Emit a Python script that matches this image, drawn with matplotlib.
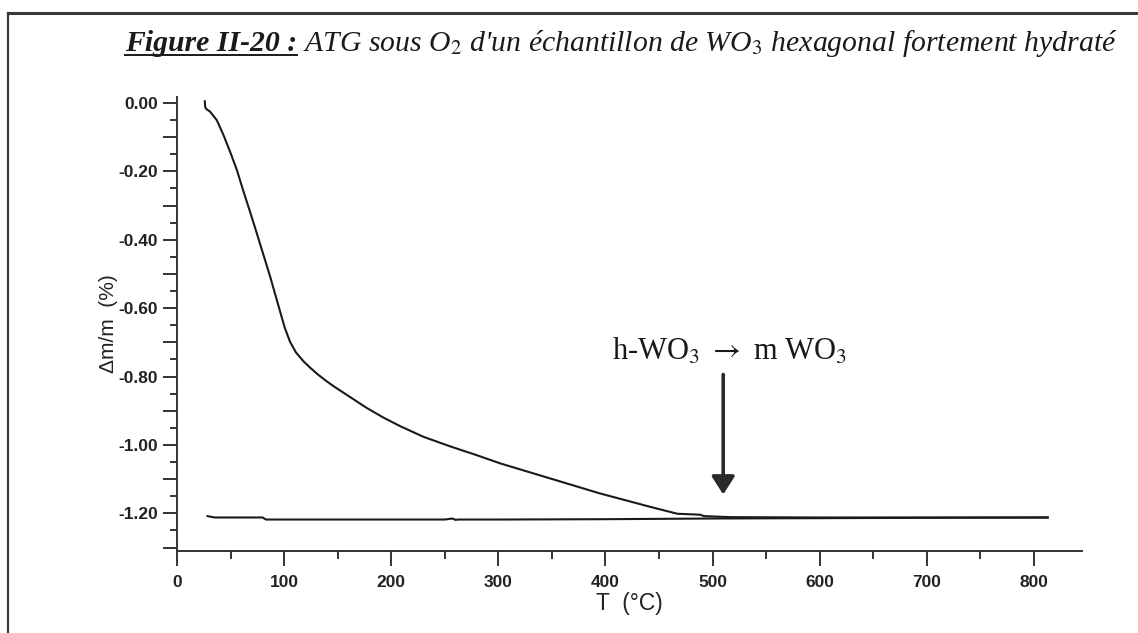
import matplotlib
matplotlib.use("Agg")
import matplotlib.pyplot as plt
from matplotlib.lines import Line2D
from matplotlib.ticker import MultipleLocator, FuncFormatter

# heating run (sous O2)
t_heat = [26.0, 26.3, 27.5, 30.8, 37.1, 43.3, 49.5, 55.8, 62.0, 68.2, 74.5, 80.7,
          87.0, 93.2, 95.0, 100.5, 105.5, 111.0, 118.0, 125.0, 132.0, 139.0,
          146.1, 161.7, 177.3, 192.8, 208.4, 230.0, 255.0, 280.0, 302.0, 348.6,
          395.3, 442.0, 467.0, 488.8, 492.0, 516.8, 600.0, 700.0, 813.0]
dm_heat = [0.005, -0.012, -0.018, -0.025, -0.050, -0.093, -0.142, -0.195, -0.258,
           -0.318, -0.381, -0.444, -0.508, -0.576, -0.596, -0.656, -0.698, -0.729,
           -0.755, -0.776, -0.795, -0.812, -0.828, -0.860, -0.892, -0.920, -0.945,
           -0.976, -1.004, -1.030, -1.054, -1.098, -1.142, -1.181, -1.201, -1.204,
           -1.208, -1.211, -1.212, -1.212, -1.212]

# cooling run
t_cool = [28.5, 35.0, 80.0, 83.0, 150.0, 250.0, 257.0, 260.0, 263.0, 300.0,
          400.0, 500.0, 600.0, 700.0, 813.0]
dm_cool = [-1.208, -1.212, -1.212, -1.218, -1.218, -1.218, -1.215, -1.219, -1.218,
           -1.218, -1.217, -1.215, -1.214, -1.213, -1.212]

arrow_t = 510
arrow_top = -0.794
arrow_tip = -1.145
note = "h-WO$_3$ $\\rightarrow$ m WO$_3$"
note_y = -0.752

plt.rcParams["mathtext.fontset"] = "stix"

fig = plt.figure(figsize=(11.38, 6.33), dpi=100)
W, H = 1138, 633
ax = fig.add_axes([177 / W, 1 - 551 / H, (1082 - 177) / W, (551 - 97) / H])

ax.plot(t_heat, dm_heat, color="#1a1a1a", lw=1.5)
ax.plot(t_cool, dm_cool, color="#1a1a1a", lw=1.5)

ax.set_xlim(0, 845)
ax.set_ylim(-1.31, 0.0175)

for side in ("top", "right"):
    ax.spines[side].set_visible(False)
for side in ("left", "bottom"):
    ax.spines[side].set_linewidth(1.4)
    ax.spines[side].set_color("#333333")

ax.xaxis.set_major_locator(MultipleLocator(100))
ax.xaxis.set_minor_locator(MultipleLocator(50))
ax.yaxis.set_major_locator(MultipleLocator(0.1))
ax.yaxis.set_minor_locator(MultipleLocator(0.05))


def ylab(v, pos):
    k = round(v * 10)
    if k % 2:
        return ""
    return "%.2f" % (k / 10)


ax.yaxis.set_major_formatter(FuncFormatter(ylab))
ax.tick_params(which="major", axis="x", length=11, width=1.4, color="#333333")
ax.tick_params(which="minor", axis="x", length=5.5, width=1.4, color="#333333")
ax.tick_params(which="major", axis="y", length=10, width=1.4, color="#333333")
ax.tick_params(which="minor", axis="y", length=5, width=1.4, color="#333333")
for lab in ax.get_xticklabels() + ax.get_yticklabels():
    lab.set_fontfamily("Liberation Sans")
    lab.set_fontweight("bold")
    lab.set_fontsize(12.5)
    lab.set_color("#222222")
ax.tick_params(axis="x", pad=6)

ax.set_xlabel("T  (\u00b0C)", fontfamily="Liberation Sans", fontsize=16.5,
              color="#222222", labelpad=2)
ax.set_ylabel("\u0394m/m  (%)", fontfamily="Liberation Sans", fontsize=15,
              color="#222222", labelpad=0)

ax.annotate("", xy=(arrow_t, arrow_tip), xytext=(arrow_t, arrow_top),
            arrowprops=dict(arrowstyle="-|>,head_length=0.55,head_width=0.35",
                            mutation_scale=20, lw=2.6, color="#2a2a2a",
                            shrinkA=0, shrinkB=0))
ax.text(arrow_t + 6, note_y, note, ha="center", va="baseline",
        fontfamily="Liberation Serif", fontsize=22, color="#1a1a1a")

# frame of the page
fig.add_artist(Line2D([8 / W, 1.0], [1 - 13 / H, 1 - 13 / H],
                      transform=fig.transFigure, color="#3a3a3a", lw=2.2))
fig.add_artist(Line2D([8 / W, 8 / W], [1 - 13 / H, 0.0],
                      transform=fig.transFigure, color="#3a3a3a", lw=1.6))

# caption: bold underlined part then italic part
renderer = fig.canvas.get_renderer()
base_y = 1 - 51 / H
t1 = fig.text(125 / W, base_y, "Figure II-20 :", fontfamily="Liberation Serif",
              fontstyle="italic", fontweight="bold", fontsize=21.4,
              color="#1a1a1a", va="baseline")
bb = t1.get_window_extent(renderer)
fig.add_artist(Line2D([bb.x0 / W, bb.x1 / W], [base_y - 4 / H, base_y - 4 / H],
                      transform=fig.transFigure, color="#1a1a1a", lw=1.4))
fig.text(bb.x1 / W + 6 / W, base_y,
         "ATG sous O$_\\mathit{2}$ d'un \u00e9chantillon de WO$_\\mathit{3}$ "
         "hexagonal fortement hydrat\u00e9",
         fontfamily="Liberation Serif", fontstyle="italic", fontsize=21.4,
         color="#1a1a1a", va="baseline")

fig.savefig("out.png", dpi=100)
